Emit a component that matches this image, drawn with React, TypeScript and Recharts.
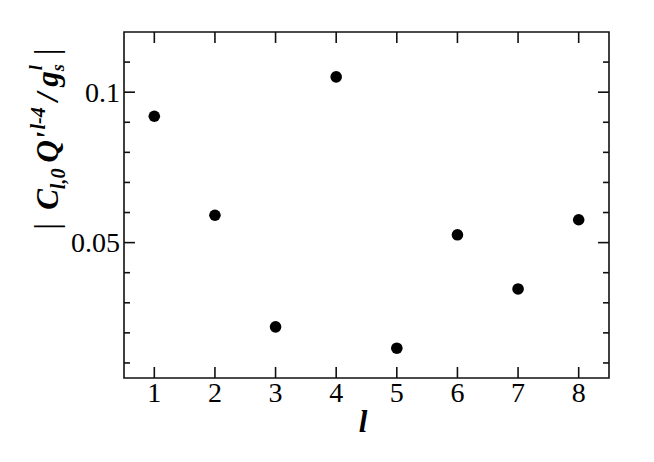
import React from "react";
import { ScatterChart, Scatter, XAxis, YAxis, ReferenceArea } from "recharts";

const lValues = [1, 2, 3, 4, 5, 6, 7, 8];
const coefValues = [0.092, 0.0591, 0.022, 0.1051, 0.0149, 0.0526, 0.0346, 0.0576];
const xTicks = [1, 2, 3, 4, 5, 6, 7, 8];
const yTicks = [0.01, 0.02, 0.03, 0.04, 0.05, 0.06, 0.07, 0.08, 0.09, 0.1, 0.11];
const yMajorTicks = [0.05, 0.1];
const yMajorLabels = ["0.05", "0.1"];

const data = lValues.map((l, i) => ({ l, c: coefValues[i] }));

const W = 654;
const H = 462;
const PLOT_LEFT = 124;
const PLOT_RIGHT = 609;
const PLOT_TOP = 32;
const PLOT_BOTTOM = 378;
const FONT = "'Liberation Serif', 'Times New Roman', serif";
const STROKE = "#111";

const XTick = (props: any) => {
  const { x, y, payload } = props;
  return (
    <g>
      <line x1={x} y1={y} x2={x} y2={y - 11} stroke={STROKE} strokeWidth={1.6} />
      <line x1={x} y1={PLOT_TOP} x2={x} y2={PLOT_TOP + 11} stroke={STROKE} strokeWidth={1.6} />
      <text x={x} y={y + 24} textAnchor="middle" fontFamily={FONT} fontSize={28} fill="#000">
        {payload.value}
      </text>
    </g>
  );
};

const YTick = (props: any) => {
  const { x, y, payload } = props;
  const idx = yMajorTicks.findIndex((v) => Math.abs(v - payload.value) < 1e-9);
  const major = idx >= 0;
  const len = major ? 11 : 6;
  return (
    <g>
      <line x1={x} y1={y} x2={x + len} y2={y} stroke={STROKE} strokeWidth={1.6} />
      <line x1={PLOT_RIGHT - len} y1={y} x2={PLOT_RIGHT} y2={y} stroke={STROKE} strokeWidth={1.6} />
      {major && (
        <text x={x - 4} y={y} textAnchor="end" dominantBaseline="central" fontFamily={FONT} fontSize={28} fill="#000">
          {yMajorLabels[idx]}
        </text>
      )}
    </g>
  );
};

const YLabel = () => (
  <text
    transform="translate(58,139) rotate(-90)"
    x={0}
    y={0}
    textAnchor="middle"
    fontFamily={FONT}
    fontSize={31}
    fontWeight="bold"
    fontStyle="italic"
    fill="#000"
  >
    <tspan fontWeight="normal" fontStyle="normal" fontSize={34}>|</tspan>
    <tspan dx={13}>C</tspan>
    <tspan fontSize={20} dy={7}>l,0</tspan>
    <tspan dy={-7} dx={6}>Q'</tspan>
    <tspan fontSize={20} dy={-13} dx={2}>l-4</tspan>
    <tspan dy={13} dx={6}>/</tspan>
    <tspan dx={6}>g</tspan>
    <tspan fontSize={18} dy={6}>s</tspan>
    <tspan fontSize={18} dy={-22} dx={-6}>l</tspan>
    <tspan fontWeight="normal" fontStyle="normal" fontSize={34} dy={16} dx={10}>|</tspan>
  </text>
);

const XLabel = () => (
  <text x={363} y={432} textAnchor="middle" fontFamily={FONT} fontSize={31} fontWeight="bold" fontStyle="italic" fill="#000">
    l
  </text>
);

const Dot = (props: any) => <circle cx={props.cx} cy={props.cy} r={5.8} fill="#000" />;

export default function App() {
  return (
    <div style={{ position: "absolute", left: 0, top: 0, width: W, height: H, background: "#fff" }}>
      <ScatterChart
        width={W}
        height={H}
        margin={{ top: PLOT_TOP, right: W - PLOT_RIGHT, bottom: 24, left: 0 }}
      >
        <XAxis
          dataKey="l"
          type="number"
          domain={[0.5, 8.5]}
          ticks={xTicks}
          interval={0}
          allowDataOverflow
          axisLine={false}
          tickLine={false}
          tickSize={0}
          tickMargin={0}
          height={H - 24 - PLOT_BOTTOM}
          tick={(p: any) => <XTick {...p} />}
          label={<XLabel />}
        />
        <YAxis
          dataKey="c"
          type="number"
          domain={[0.005, 0.12]}
          ticks={yTicks}
          interval={0}
          allowDataOverflow
          axisLine={false}
          tickLine={false}
          tickSize={0}
          tickMargin={0}
          width={PLOT_LEFT}
          tick={(p: any) => <YTick {...p} />}
          label={<YLabel />}
        />
        <ReferenceArea x1={0.5} x2={8.5} y1={0.005} y2={0.12} fill="none" stroke={STROKE} strokeWidth={1.6} fillOpacity={0} />
        <Scatter data={data} fill="#000" shape={(p: any) => <Dot {...p} />} isAnimationActive={false} />
      </ScatterChart>
    </div>
  );
}
